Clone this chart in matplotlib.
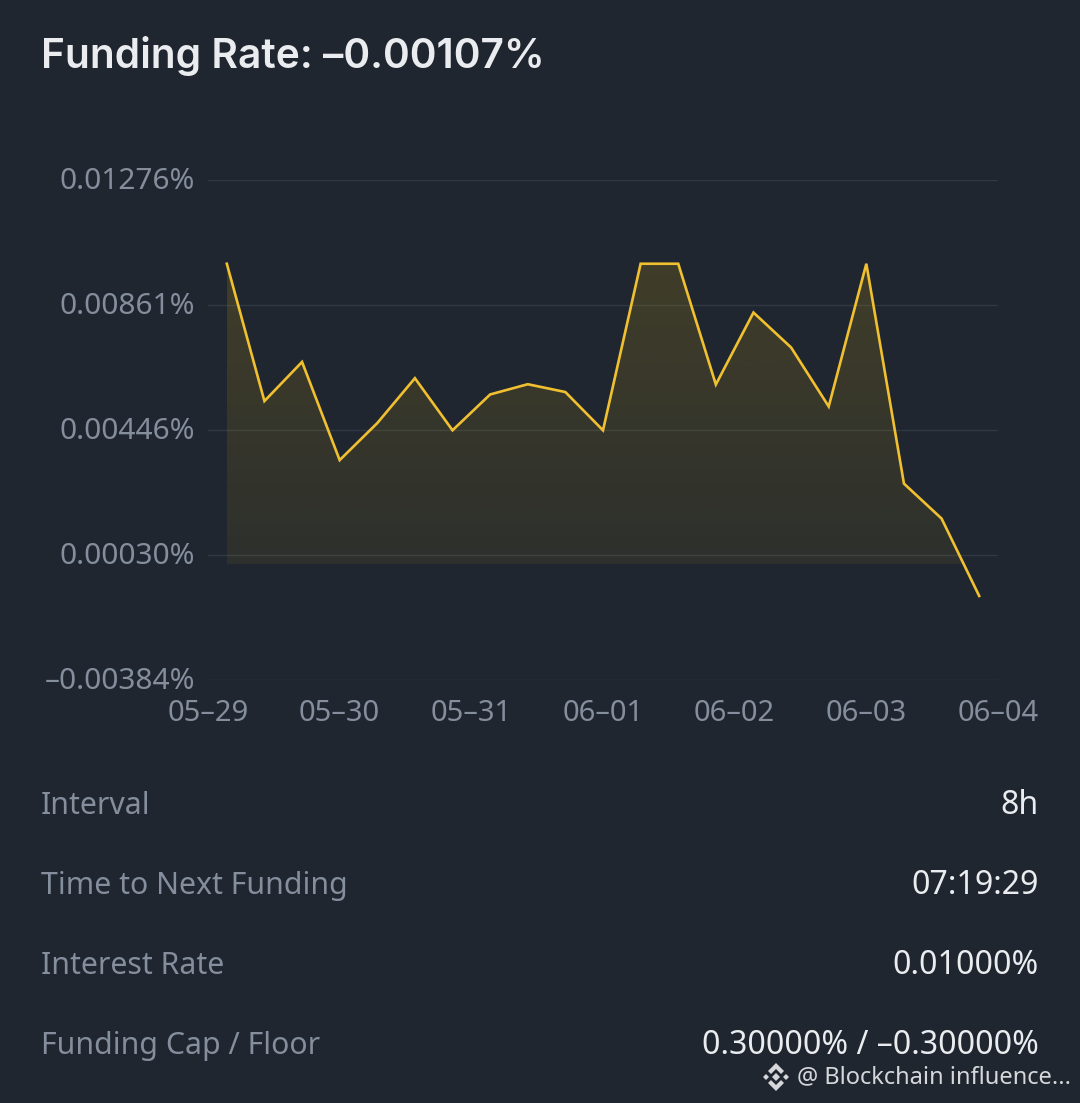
import matplotlib
matplotlib.use("Agg")
import matplotlib.pyplot as plt
import matplotlib.transforms as mtrans
import numpy as np
from matplotlib.patches import Polygon

BG = "#1f262f"
# values
x_labels = ["05-29", "05-30", "05-31", "06-01", "06-02", "06-03", "06-04"]
y_labels = ["0.01276%", "0.00861%", "0.00446%", "0.00030%", "-0.00384%"]
y_ticks = [0.01276, 0.00861, 0.00446, 0.00030, -0.00384]
rates = [0.00998, 0.00542, 0.00672, 0.00346, 0.00469, 0.00618, 0.00445, 0.00564,
         0.00598, 0.00572, 0.00445, 0.00998, 0.00998, 0.00597, 0.00836, 0.00720,
         0.00524, 0.00998, 0.00268, 0.00152, -0.00105]
rows = ["Interval", "Time to Next Funding", "Interest Rate", "Funding Cap / Floor"]
row_values = ["8h", "07:19:29", "0.01000%", "0.30000% / \u20130.30000%"]
area_floor = 0.0

W, H = 1080, 1103
plt.rcParams["font.family"] = ["Noto Sans", "DejaVu Sans"]
fig = plt.figure(figsize=(W/100, H/100), dpi=100, facecolor=BG)

ax = fig.add_axes([208/W, 1-680/H, 790/W, 500/H], facecolor=BG)
n = len(rates)
xs = np.arange(n)
ax.set_yticks(y_ticks)
ax.set_yticklabels([s.replace("-", "\u2013") for s in y_labels], fontsize=21.5, color="#848e9c")
ax.yaxis.set_tick_params(length=0, pad=9.4)
ax.grid(axis="y", color="#303843", lw=1)
ax.set_xticks(np.arange(len(x_labels)) * 3.5 - 0.5)
ax.set_xticklabels([s.replace("-", "\u2013") for s in x_labels], fontsize=21, color="#848e9c")
ax.xaxis.set_tick_params(length=0, pad=13.5)
for lab in ax.get_yticklabels():
    lab.set_transform(lab.get_transform() + mtrans.ScaledTranslation(0, 2/100, fig.dpi_scale_trans))
for sp in ax.spines.values():
    sp.set_visible(False)
ax.set_axisbelow(True)

top = max(rates)
grad = np.linspace(0, 1, 256).reshape(-1, 1)
cols = np.zeros((256, 1, 4))
cols[..., 0] = 0xf0/255; cols[..., 1] = 0xb9/255; cols[..., 2] = 0x0b/255
cols[..., 3] = 0.16 - 0.09*(1-grad)
im = ax.imshow(cols, extent=[xs[0], xs[-1], area_floor, top], origin="lower", aspect="auto", zorder=1)
ax.set_xlim(-0.5, n - 0.5)
ax.set_ylim(-0.00384, 0.01276)
cross = 19 + (rates[19]-area_floor)/(rates[19]-rates[20])
poly_x = list(xs[:20]) + [cross, xs[0]]
poly_y = rates[:20] + [area_floor, area_floor]
clip = Polygon(np.column_stack([poly_x, poly_y]), closed=True, transform=ax.transData, fc="none", ec="none")
ax.add_patch(clip)
im.set_clip_path(clip)
ax.plot(xs, rates, color="#f0c030", lw=1.9, zorder=3, solid_joinstyle="miter")

fig.text(41/W, 1-56/H, "Funding Rate: \u20130.00107%", fontsize=29.3, fontweight="semibold",
         family=["Inter", "DejaVu Sans"], color="#eaecef", va="center")
for y, a, b in zip([806, 886, 966, 1046], rows, row_values):
    fig.text(41/W, 1-y/H, a, fontsize=21.8, color="#848e9c", va="center")
    fig.text(1039/W, 1-y/H, b, fontsize=23.1, color="#eaecef", va="center", ha="right")
fig.text(1071/W, 1-1077/H, "@ Blockchain influence...", fontsize=17.05, color="#d5d7da", va="center", ha="right")

# watermark logo, in pixel coordinates of the figure
def logo(points):
    fig.patches.append(Polygon([(px/W, 1-py/H) for px, py in points], closed=True,
                               transform=fig.transFigure, fc="#d5d7da", ec="none"))
cx, cy = 776, 1077
logo([(cx-4, cy), (cx, cy-4), (cx+4, cy), (cx, cy+4)])
logo([(cx-13, cy), (cx-10, cy-3), (cx-7, cy), (cx-10, cy+3)])
logo([(cx+13, cy), (cx+10, cy-3), (cx+7, cy), (cx+10, cy+3)])
for s in (1, -1):
    logo([(cx, cy-14*s), (cx+8, cy-6*s), (cx+5, cy-3*s), (cx, cy-8*s), (cx-5, cy-3*s), (cx-8, cy-6*s)])
fig.savefig("out.png", dpi=100, facecolor=BG)
